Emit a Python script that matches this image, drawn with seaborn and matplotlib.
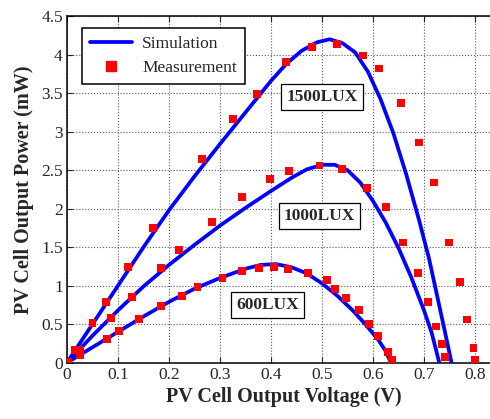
import matplotlib
matplotlib.use('Agg')
import matplotlib.pyplot as plt
from matplotlib.lines import Line2D
import seaborn as sns

# simulation curves
sim_v_1500 = [0, 0.05, 0.10, 0.15, 0.20, 0.25, 0.30, 0.35, 0.40, 0.43, 0.46, 0.49, 0.515,
              0.54, 0.565, 0.59, 0.615, 0.64, 0.665, 0.69, 0.71, 0.73, 0.745, 0.754]
sim_p_1500 = [0, 0.50, 1.00, 1.50, 1.98, 2.42, 2.84, 3.25, 3.66, 3.88, 4.05, 4.16, 4.20,
              4.15, 4.03, 3.78, 3.42, 2.98, 2.45, 1.86, 1.35, 0.74, 0.28, 0]

sim_v_1000 = [0, 0.05, 0.10, 0.15, 0.20, 0.25, 0.30, 0.35, 0.40, 0.44, 0.47, 0.50, 0.525,
              0.55, 0.575, 0.60, 0.625, 0.65, 0.675, 0.70, 0.715, 0.73]
sim_p_1000 = [0, 0.35, 0.68, 0.99, 1.27, 1.53, 1.78, 2.01, 2.23, 2.40, 2.51, 2.57, 2.57,
              2.50, 2.34, 2.10, 1.82, 1.49, 1.11, 0.68, 0.39, 0]

sim_v_600 = [0, 0.05, 0.10, 0.15, 0.20, 0.25, 0.30, 0.35, 0.38, 0.41, 0.44, 0.47, 0.50,
             0.53, 0.56, 0.585, 0.61, 0.625, 0.635]
sim_p_600 = [0, 0.20, 0.40, 0.60, 0.79, 0.96, 1.10, 1.22, 1.27, 1.28, 1.24, 1.16, 1.03,
             0.87, 0.68, 0.50, 0.30, 0.15, 0]

# measurements
meas_v_1500 = [0.003, 0.016, 0.05, 0.076, 0.12, 0.169, 0.265, 0.326, 0.372, 0.429, 0.481,
               0.529, 0.581, 0.612, 0.655, 0.691, 0.72, 0.749, 0.771, 0.784, 0.797, 0.80]
meas_p_1500 = [0.01, 0.16, 0.52, 0.79, 1.24, 1.75, 2.65, 3.17, 3.49, 3.90, 4.10,
               4.14, 3.99, 3.82, 3.37, 2.86, 2.34, 1.56, 1.05, 0.56, 0.19, 0.04]

meas_v_1000 = [0.025, 0.086, 0.127, 0.184, 0.22, 0.284, 0.343, 0.398, 0.436, 0.495, 0.54,
               0.589, 0.625, 0.659, 0.689, 0.708, 0.723, 0.736, 0.741]
meas_p_1000 = [0.16, 0.58, 0.85, 1.23, 1.46, 1.83, 2.15, 2.38, 2.49, 2.56, 2.52,
               2.27, 2.02, 1.56, 1.17, 0.79, 0.47, 0.24, 0.07]

meas_v_600 = [0.0, 0.025, 0.078, 0.102, 0.141, 0.184, 0.225, 0.256, 0.305, 0.344, 0.377,
              0.406, 0.433, 0.472, 0.509, 0.525, 0.547, 0.572, 0.592, 0.610, 0.629, 0.637]
meas_p_600 = [0.0, 0.10, 0.31, 0.41, 0.57, 0.74, 0.87, 0.98, 1.10, 1.19, 1.23,
              1.24, 1.22, 1.17, 1.07, 0.96, 0.84, 0.68, 0.50, 0.35, 0.14, 0.04]

lux_labels = ['1500LUX', '1000LUX', '600LUX']
lux_label_pos = [(0.50, 3.45), (0.495, 1.905), (0.393, 0.75)]

x_ticks = [0, 0.1, 0.2, 0.3, 0.4, 0.5, 0.6, 0.7, 0.8]
y_ticks = [0, 0.5, 1, 1.5, 2, 2.5, 3, 3.5, 4, 4.5]

sns.set_style('ticks')
plt.rcParams['font.family'] = ['Liberation Serif', 'DejaVu Serif']

fig = plt.figure(figsize=(4.9, 4.19), dpi=100)
ax = fig.add_axes([0.1367, 0.1344, 0.8847, 0.827])

line_color = '#0000ff'
mark_color = '#ff0000'

for v, p in [(sim_v_1500, sim_p_1500), (sim_v_1000, sim_p_1000), (sim_v_600, sim_p_600)]:
    sns.lineplot(x=v, y=p, ax=ax, color=line_color, linewidth=2.7, sort=False,
                 estimator=None, legend=False, zorder=3)

for v, p in [(meas_v_1500, meas_p_1500), (meas_v_1000, meas_p_1000), (meas_v_600, meas_p_600)]:
    sns.scatterplot(x=v, y=p, ax=ax, color=mark_color, marker='s', s=32,
                    edgecolor='none', linewidth=0, legend=False, zorder=4)

for txt, (tx, ty) in zip(lux_labels, lux_label_pos):
    ax.text(tx, ty, txt, ha='center', va='center', fontsize=12.5, fontweight='bold',
            bbox=dict(boxstyle='square,pad=0.3', facecolor='white', edgecolor='black', linewidth=0.9),
            zorder=5)

ax.set_xlim(0, 0.85)
ax.set_ylim(0, 4.5)
ax.set_xticks(x_ticks)
ax.set_xticklabels([f'{t:g}' for t in x_ticks])
ax.set_yticks(y_ticks)
ax.set_yticklabels([f'{t:g}' for t in y_ticks])
ax.tick_params(direction='in', top=True, right=True, length=4, width=0.8,
               labelsize=12.5, pad=3)
ax.grid(True, linestyle=':', color='0.35', linewidth=0.8)
for s in ax.spines.values():
    s.set_linewidth(1.1)
    s.set_color('black')

ax.set_xlabel('PV Cell Output Voltage (V)', fontsize=14.5, fontweight='bold', labelpad=3)
ax.set_ylabel('PV Cell Output Power (mW)', fontsize=14.5, fontweight='bold', labelpad=5)

handles = [Line2D([], [], color=line_color, linewidth=2.7),
           Line2D([], [], color=mark_color, marker='s', markersize=6.5, linestyle='none')]
leg = ax.legend(handles, ['Simulation', 'Measurement'], loc='upper left',
                bbox_to_anchor=(0.035, 0.966), borderaxespad=0, fontsize=12.5,
                fancybox=False, framealpha=1, edgecolor='black', handlelength=2.4,
                borderpad=0.45, labelspacing=0.45, handletextpad=0.6)
leg.get_frame().set_linewidth(1.1)
leg.set_zorder(6)

plt.savefig('out.png', dpi=100)
